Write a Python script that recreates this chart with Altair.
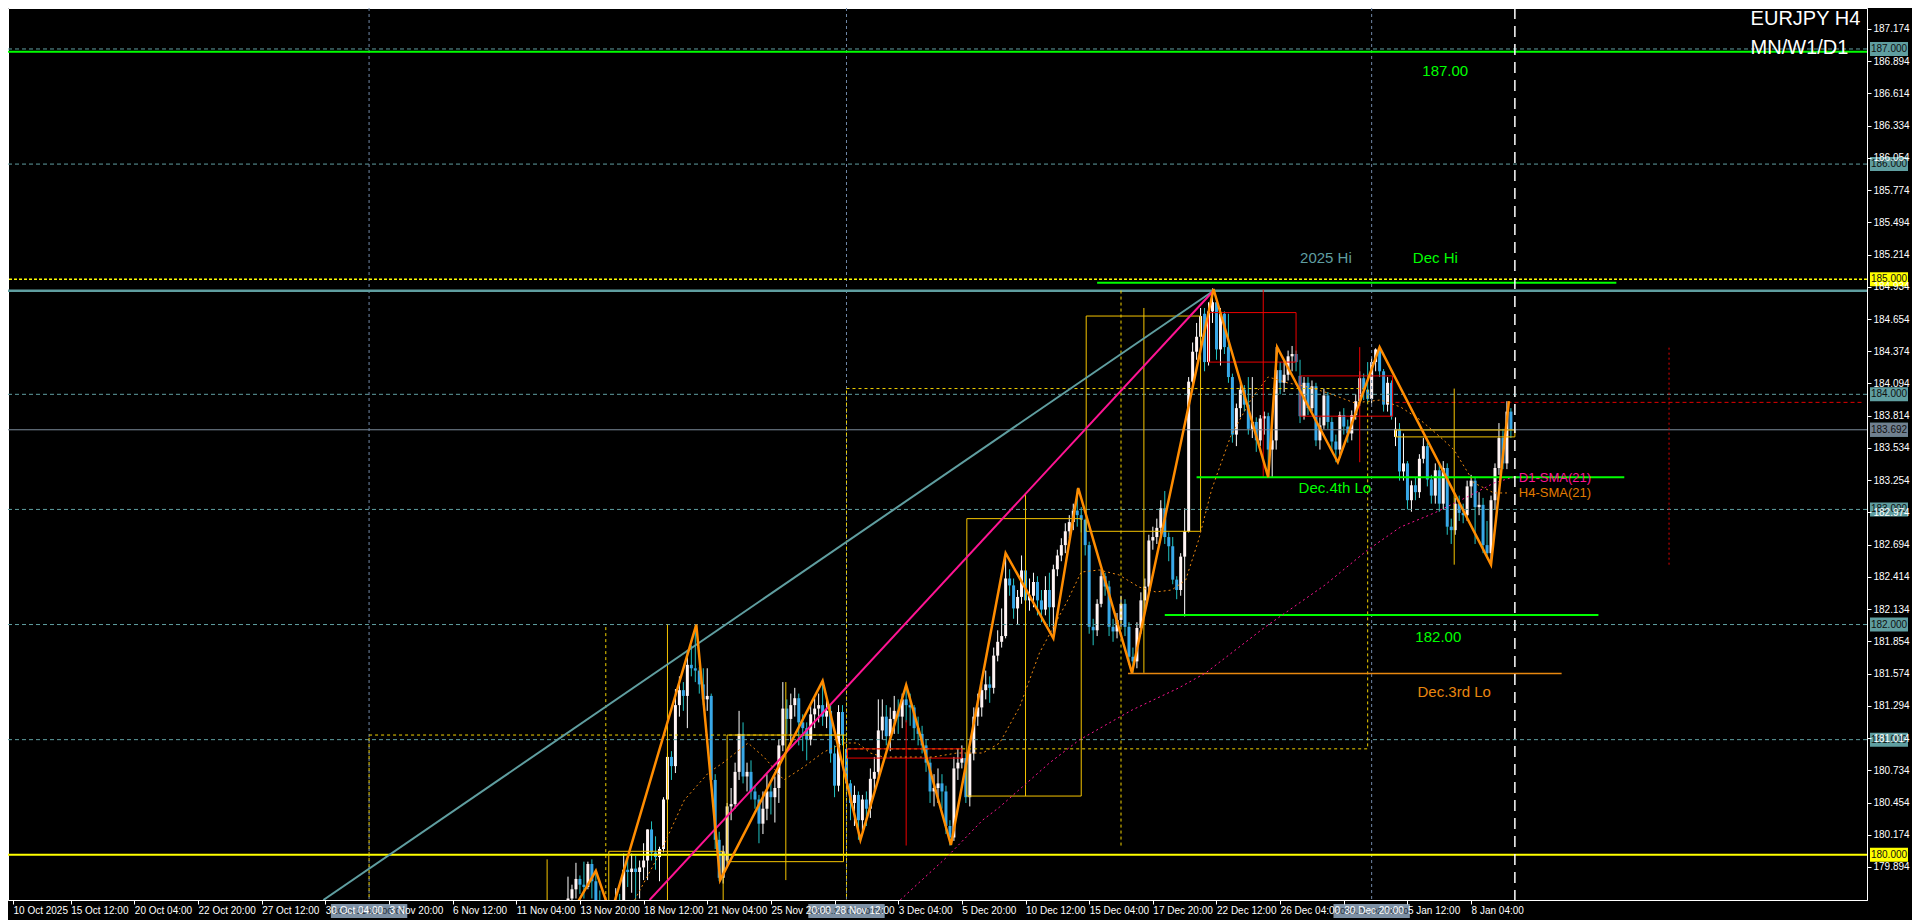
import altair as alt
import pandas as pd

# ---------------- candle data (H4 bars, bar index from 141 to 378) ----------------
START_BAR = 141
OPEN = [
 179.55,179.62,179.70,179.79,179.74,179.72,179.92,179.77,179.60,179.55,
 179.50,179.45,179.50,179.58,179.55,179.87,179.85,179.88,179.85,179.89,
 179.95,180.22,180.02,179.98,180.05,180.48,180.85,180.77,181.30,181.43,
 181.38,181.65,181.62,181.60,181.48,181.35,181.38,180.65,180.13,179.80,
 179.95,180.42,180.44,180.72,181.05,180.68,180.72,180.55,180.48,180.27,
 180.40,180.55,180.50,180.58,180.95,181.27,181.18,181.30,181.36,181.15,
 181.10,181.00,181.22,181.27,181.30,181.20,181.25,180.88,180.60,181.24,
 180.92,180.62,180.45,180.52,180.30,180.48,180.40,180.66,180.72,181.08,
 181.20,181.03,181.18,181.25,181.20,181.35,181.30,181.28,181.10,181.05,
 180.95,180.80,180.55,180.58,180.62,180.55,180.25,180.15,180.75,180.80,
 180.84,180.50,180.88,181.20,181.28,181.43,181.48,181.45,181.73,181.85,
 181.90,182.40,182.34,182.14,182.24,182.47,182.21,182.25,182.37,182.21,
 182.13,182.30,182.15,182.48,182.60,182.69,182.81,182.89,182.99,182.95,
 182.91,182.69,181.98,181.95,182.18,182.42,182.33,181.98,181.94,182.04,
 182.18,181.98,181.72,181.68,181.97,182.21,182.33,182.73,182.76,182.84,
 183.01,182.76,182.68,182.39,182.30,182.59,182.81,184.11,184.37,184.50,
 184.70,184.28,184.72,184.80,184.39,184.70,184.41,184.15,183.65,183.88,
 184.04,183.91,183.70,183.76,183.60,183.79,183.81,183.52,183.60,184.21,
 184.10,184.17,184.33,184.35,184.16,183.81,184.10,183.88,184.07,183.60,
 183.73,183.99,183.76,183.59,183.52,183.82,183.72,183.66,183.82,183.94,
 184.14,184.04,183.96,184.28,184.39,184.20,183.91,184.10,183.63,183.70,
 183.33,183.40,183.08,183.21,183.15,183.44,183.55,183.26,183.12,183.34,
 183.05,183.36,182.85,182.82,183.05,182.97,182.95,183.20,183.25,183.02,
 183.04,182.69,182.62,183.08,183.36,183.62,183.40,183.85]
HIGH = [
 179.81,179.74,179.93,179.82,179.94,179.94,179.96,179.86,179.69,179.58,
 179.55,179.58,179.71,179.66,180.01,179.97,180.01,179.99,179.95,180.10,
 180.22,180.29,180.16,180.07,180.50,180.88,180.90,181.44,181.55,181.50,
 181.78,181.82,182.00,181.63,181.62,181.62,181.40,180.70,180.20,180.08,
 180.45,180.58,180.80,181.25,181.15,180.80,180.82,180.60,180.52,180.55,
 180.70,180.62,180.68,181.00,181.50,181.35,181.40,181.45,181.40,181.22,
 181.15,181.30,181.36,181.40,181.51,181.35,181.30,180.95,181.30,181.30,
 180.95,180.65,180.60,180.55,180.52,180.55,180.75,180.85,181.35,181.35,
 181.30,181.28,181.38,181.35,181.40,181.47,181.40,181.30,181.20,181.12,
 181.00,180.85,180.70,180.75,180.70,180.60,180.30,180.85,180.92,180.95,
 180.88,180.92,181.28,181.40,181.50,181.60,181.55,181.80,181.95,182.14,
 182.62,182.48,182.40,182.30,182.60,182.52,182.40,182.45,182.42,182.30,
 182.42,182.45,182.52,182.65,182.75,182.88,182.95,183.05,183.18,183.02,
 182.92,182.72,182.05,182.22,182.48,182.45,182.38,182.05,182.10,182.25,
 182.22,182.02,181.80,182.02,182.28,182.40,182.78,182.85,182.92,183.08,
 183.16,182.80,182.76,182.42,182.62,183.01,184.15,184.45,184.62,184.75,
 184.75,184.80,184.92,184.85,184.75,184.72,184.70,184.18,183.92,184.10,
 184.08,184.15,184.15,183.80,183.82,183.85,183.84,183.70,184.41,184.28,
 184.30,184.38,184.42,184.38,184.30,184.15,184.15,184.12,184.10,183.80,
 184.05,184.02,183.80,183.65,183.85,183.88,183.78,183.86,184.00,184.20,
 184.18,184.28,184.32,184.40,184.41,184.22,184.15,184.12,183.80,183.75,
 183.66,183.42,183.25,183.28,183.48,183.62,183.58,183.30,183.40,183.40,
 183.42,183.40,182.92,183.10,183.12,183.05,183.25,183.30,183.28,183.15,
 183.10,182.90,183.12,183.40,183.75,183.70,183.94,183.88]
LOW = [
 179.50,179.55,179.62,179.66,179.62,179.70,179.62,179.50,179.45,179.40,
 179.38,179.40,179.45,179.48,179.52,179.72,179.67,179.61,179.62,179.78,
 179.78,179.95,179.87,179.77,180.02,180.45,180.65,180.71,181.20,181.25,
 181.10,181.55,181.50,181.40,181.30,181.25,180.60,180.05,179.77,179.75,
 179.90,180.30,180.40,180.65,180.62,180.55,180.48,180.40,180.10,180.18,
 180.30,180.35,180.28,180.45,180.90,181.05,180.95,181.20,180.95,180.90,
 180.82,180.95,181.10,181.15,181.12,181.10,180.80,180.50,180.55,180.95,
 180.55,180.30,180.25,180.13,180.20,180.25,180.32,180.55,180.65,181.00,
 180.95,180.90,181.05,181.05,181.10,181.15,181.12,181.00,180.95,180.88,
 180.72,180.45,180.42,180.45,180.40,180.18,180.08,180.12,180.65,180.75,
 180.45,180.42,180.82,181.12,181.20,181.35,181.32,181.40,181.68,181.80,
 181.88,182.25,182.05,182.00,182.18,182.10,182.12,182.15,182.08,182.02,
 182.08,181.98,181.88,182.42,182.55,182.62,182.75,182.82,182.85,182.80,
 182.60,181.92,181.82,181.90,182.15,182.25,181.90,181.85,181.88,181.98,
 181.90,181.65,181.58,181.62,181.92,182.10,182.28,182.65,182.70,182.78,
 182.70,182.55,182.35,182.22,182.25,182.07,182.80,184.05,184.30,184.30,
 184.20,184.25,184.62,184.30,184.25,184.35,184.10,183.58,183.55,183.80,
 183.85,183.65,183.62,183.50,183.55,183.65,183.28,183.28,183.52,184.00,
 184.02,184.12,184.20,184.20,183.75,183.78,183.82,183.85,183.55,183.52,
 183.70,183.70,183.50,183.41,183.45,183.65,183.58,183.60,183.78,183.90,
 183.95,183.92,183.92,184.20,184.15,183.85,183.85,183.78,183.55,183.25,
 183.25,183.00,182.98,183.08,183.10,183.40,183.20,183.05,183.05,182.98,
 183.00,182.78,182.70,182.78,182.90,182.88,182.90,183.10,182.70,182.95,
 182.62,182.58,182.52,183.00,183.30,183.35,183.35,183.62]
CLOSE = [
 179.62,179.70,179.79,179.74,179.72,179.92,179.77,179.60,179.55,179.50,
 179.45,179.50,179.58,179.55,179.87,179.85,179.88,179.85,179.89,179.95,
 180.22,180.02,179.98,180.05,180.48,180.85,180.77,181.30,181.43,181.38,
 181.65,181.62,181.60,181.48,181.35,181.38,180.65,180.13,179.80,180.03,
 180.42,180.44,180.72,181.05,180.68,180.72,180.55,180.48,180.27,180.40,
 180.55,180.50,180.58,180.95,181.27,181.18,181.30,181.36,181.15,181.10,
 181.00,181.22,181.27,181.30,181.20,181.25,180.88,180.60,181.24,181.04,
 180.62,180.45,180.52,180.30,180.48,180.40,180.66,180.72,181.08,181.20,
 181.03,181.18,181.25,181.20,181.35,181.30,181.28,181.10,181.05,180.95,
 180.80,180.55,180.58,180.62,180.55,180.25,180.15,180.75,180.80,180.84,
 180.50,180.88,181.20,181.28,181.43,181.48,181.45,181.73,181.85,181.90,
 182.40,182.34,182.14,182.24,182.47,182.21,182.25,182.37,182.21,182.13,
 182.30,182.15,182.48,182.60,182.69,182.81,182.89,182.99,182.95,182.91,
 182.69,181.98,181.95,182.18,182.42,182.33,181.98,181.94,182.04,182.18,
 181.98,181.72,181.68,181.97,182.21,182.33,182.73,182.76,182.84,183.01,
 182.76,182.68,182.39,182.30,182.59,182.81,184.11,184.37,184.50,184.68,
 184.28,184.72,184.80,184.39,184.70,184.41,184.15,183.65,183.88,184.04,
 183.91,183.70,183.76,183.60,183.79,183.81,183.52,183.60,184.21,184.10,
 184.17,184.33,184.35,184.28,183.81,184.10,183.88,184.07,183.60,183.73,
 183.99,183.76,183.59,183.52,183.82,183.72,183.66,183.82,183.94,184.14,
 184.04,183.96,184.28,184.39,184.20,183.91,184.10,183.81,183.70,183.33,
 183.40,183.08,183.21,183.15,183.44,183.55,183.26,183.12,183.34,183.05,
 183.36,182.85,182.82,183.05,182.97,182.95,183.20,183.25,183.02,183.04,
 182.69,182.62,183.08,183.36,183.62,183.40,183.85,183.69]

# ---------------- axes ----------------
X_LABELS = ["10 Oct 2025", "15 Oct 12:00", "20 Oct 04:00", "22 Oct 20:00", "27 Oct 12:00",
            "30 Oct 04:00", "3 Nov 20:00", "6 Nov 12:00", "11 Nov 04:00", "13 Nov 20:00",
            "18 Nov 12:00", "21 Nov 04:00", "25 Nov 20:00", "28 Nov 12:00", "3 Dec 04:00",
            "5 Dec 20:00", "10 Dec 12:00", "15 Dec 04:00", "17 Dec 20:00", "22 Dec 12:00",
            "26 Dec 04:00", "30 Dec 20:00", "5 Jan 12:00", "8 Jan 04:00"]
X_TICK_BARS = [1.5, 16, 32, 48, 64, 80, 96, 112, 128, 144, 160, 176, 192, 208, 224, 240,
               256, 272, 288, 304, 320, 336, 352, 368]
Y_TICKS = [179.894, 180.174, 180.454, 180.734, 181.014, 181.294, 181.574, 181.854, 182.134,
           182.414, 182.694, 182.974, 183.254, 183.534, 183.814, 184.094, 184.374, 184.654,
           184.934, 185.214, 185.494, 185.774, 186.054, 186.334, 186.614, 186.894, 187.174]
X_DOMAIN = [1.5, 466.25]
Y_DOMAIN = [179.607, 187.356]

# ---------------- higher timeframe candles ----------------
W_X0 = [121.25, 151.25, 181, 211.25, 241.25, 271.25, 302, 325, 349]
W_X1 = [150, 180, 210.25, 240, 270, 300, 324, 348.25, 379]
W_OPEN = [179.20, 179.40, 179.94, 180.92, 180.51, 182.81, 184.71, 184.16, 183.63]
W_CLOSE = [179.35, 180.03, 181.04, 180.84, 182.92, 184.68, 184.28, 183.81, 183.69]
W_WICK = [135.75, 166, 195.75, 226, 256, 285.75, 315.75, 340, 363.75]
W_HIGH = [179.96, 182.00, 181.50, 181.17, 183.14, 184.75, 184.91, 184.41, 184.05]
W_LOW = [179.00, 179.30, 179.78, 180.08, 180.51, 181.58, 183.28, 183.41, 182.52]

M_X0 = [91, 211]
M_X1 = [211, 342]
M_OPEN = [177.50, 180.92]
M_CLOSE = [181.04, 184.05]
M_WICK = [150.5, 280]
M_HIGH = [182.00, 184.91]
M_LOW = [177.00, 180.08]
JAN_WICK = 417.75
JAN_HIGH, JAN_LOW, JAN_OPEN = 184.41, 182.52, 183.93

# ---------------- drawn objects ----------------
ZZ_BAR = [143, 148, 151.75, 173.25, 179.25, 205, 214.5, 226, 237.25, 251, 263, 269.25, 282.75,
          303.25, 317, 319.25, 334.5, 345, 373, 377.5]
ZZ_PRICE = [179.56, 179.86, 179.48, 182.00, 179.78, 181.51, 180.13, 181.475, 180.085, 182.62,
            181.88, 183.186, 181.58, 184.915, 183.28, 184.41, 183.41, 184.41, 182.52, 183.94]

H4_BAR = [157.75, 164.5, 170.25, 176.25, 180.25, 186.25, 190.25, 195.25, 200.25, 205.25, 210.25,
          213.75, 217, 220.25, 225.25, 232.75, 238.75, 245.25, 249.5, 254.5, 259.5, 266.25,
          270, 274.5, 279.5, 284.5, 288.75, 292.75, 296.25, 299.5, 302.75, 307.5, 312.75,
          317, 322, 327, 332, 338.75, 345.25, 350.25, 355.25, 360.25, 363.75, 368.75,
          373.75, 377]
H4_SMA = [179.607, 180.041, 180.476, 180.710, 180.806, 180.971, 180.849, 180.650, 180.762, 180.892,
          180.971, 180.971, 180.884, 180.849, 180.849, 180.849, 180.884, 180.884, 180.971, 181.283,
          181.753, 182.187, 182.456, 182.474, 182.431, 182.326, 182.283, 182.300, 182.387, 182.734,
          183.169, 183.630, 183.960, 184.151, 184.098, 184.064, 184.012, 183.925, 183.951,
          183.890, 183.777, 183.629, 183.516, 183.230, 183.143, 183.143]

D1_BAR = [224.5, 236.25, 245.25, 249.5, 262, 269.5, 282.75, 294.5, 301.25, 316.25, 331.25, 342,
          350.25, 358.75, 367, 373.75, 378.75]
D1_SMA = [179.607, 179.981, 180.302, 180.415, 180.797, 180.997, 181.257, 181.449, 181.579,
          181.979, 182.343, 182.648, 182.847, 182.969, 183.108, 183.230, 183.282]

TREND_BLUE = [(79.5, 179.607), (303.25, 184.90)]
TREND_PINK = [(161.5, 179.607), (303.25, 184.90)]

GRAY_LEVELS = [187.0, 186.0, 184.0, 183.0, 182.0, 181.0]
CURRENT_PRICE = 183.692
HI_2025 = 184.90
GREEN_187 = 186.975
VLINE_BARS = [91, 211, 343]
VLINE_LABELS = ["2025.11.03 00:00", "2025.12.01 00:00", "2026.01.02 00:00"]
NOW_BAR = 379

SEG_NAMES = ["Dec Hi", "Dec.4th Lo", "182.00", "Dec.3rd Lo"]
SEG_X0 = [274, 299, 291, 281.75]
SEG_X1 = [404.5, 406.5, 400, 390.75]
SEG_PRICE = [184.97, 183.28, 182.083, 181.575]

BOX_LEVELS = [187.0, 186.0, 185.0, 184.0, 183.692, 183.0, 182.0, 181.0, 180.0]
BOX_KIND = ["obj", "obj", "yel", "obj", "cur", "obj", "obj", "obj", "yel"]

# ---------------- build tables ----------------
n = len(CLOSE)
assert len(OPEN) == n and len(HIGH) == n and len(LOW) == n
cdf = pd.DataFrame({"bar": [START_BAR + i for i in range(n)], "o": OPEN, "h": HIGH,
                    "l": LOW, "c": CLOSE})

xs = alt.Scale(domain=X_DOMAIN, nice=False, zero=False)
ys = alt.Scale(domain=Y_DOMAIN, nice=False, zero=False)
FONT = "Liberation Sans"

label_expr = "[" + ",".join("'%s'" % s for s in X_LABELS) + "][round(datum.value/16)]"
x_axis = alt.Axis(values=X_TICK_BARS, labelExpr=label_expr, labelAlign="left", labelBaseline="top",
                  labelColor="#ffffff", labelFont=FONT, labelFontSize=10, tickColor="#ffffff",
                  tickSize=4, domainColor="#ffffff", labelPadding=1, grid=False, title=None,
                  labelFlush=False, labelOverlap=False, zindex=1)
y_axis = alt.Axis(orient="right", values=Y_TICKS, format=".3f", labelColor="#ffffff",
                  labelFont=FONT, labelFontSize=10, tickColor="#ffffff", tickSize=4,
                  domainColor="#ffffff", labelPadding=2, grid=False, title=None,
                  labelOverlap=False, labelFlush=False, zindex=1)


def X(f):
    return alt.X(f, type="quantitative", scale=xs, axis=x_axis)


def Y(f):
    return alt.Y(f, type="quantitative", scale=ys, axis=y_axis)


up = "datum.c >= datum.o"
wicks = alt.Chart(cdf).mark_rule(strokeWidth=1, clip=True).encode(
    x=X("bar"), y=Y("l"), y2="h",
    color=alt.condition(up, alt.value("#ffffff"), alt.value("#22c4c4")))
bodies = alt.Chart(cdf).mark_bar(size=3, clip=True).encode(
    x=X("bar"), y=Y("o"), y2="c",
    color=alt.condition(up, alt.value("#fff4f4"), alt.value("#38a8e8")))

# monthly
mdf = pd.DataFrame({"x0": M_X0, "x1": M_X1, "o": M_OPEN, "c": M_CLOSE, "w": M_WICK,
                    "h": M_HIGH, "l": M_LOW})
m_box = alt.Chart(mdf).mark_rect(fillOpacity=0, stroke="#f2d200", strokeWidth=1,
                                 strokeDash=[3, 3], clip=True).encode(
    x=X("x0"), x2="x1", y=Y("o"), y2="c")
m_wick = alt.Chart(mdf).mark_rule(color="#f2d200", strokeWidth=1, strokeDash=[3, 3],
                                  clip=True).encode(x=X("w"), y=Y("l"), y2="h")
jdf = pd.DataFrame({"w": [JAN_WICK], "h": [JAN_HIGH], "l": [JAN_LOW], "o": [JAN_OPEN],
                    "x0": [349], "x1": [X_DOMAIN[1]]})
j_wick = alt.Chart(jdf).mark_rule(color="#e00000", strokeWidth=1, strokeDash=[2, 3],
                                  clip=True).encode(x=X("w"), y=Y("l"), y2="h")
j_open = alt.Chart(jdf).mark_rule(color="#e00000", strokeWidth=1, strokeDash=[4, 3],
                                  clip=True).encode(x=X("x0"), x2="x1", y=Y("o"))

# weekly
wdf = pd.DataFrame({"x0": W_X0, "x1": W_X1, "o": W_OPEN, "c": W_CLOSE, "w": W_WICK,
                    "h": W_HIGH, "l": W_LOW})
w_box = alt.Chart(wdf).mark_rect(fillOpacity=0, strokeWidth=1, clip=True).encode(
    x=X("x0"), x2="x1", y=Y("o"), y2="c",
    stroke=alt.condition(up, alt.value("#f5c400"), alt.value("#ee0000")))
w_wick = alt.Chart(wdf).mark_rule(strokeWidth=1, clip=True).encode(
    x=X("w"), y=Y("l"), y2="h",
    color=alt.condition(up, alt.value("#f5c400"), alt.value("#ee0000")))

# horizontal lines
gdf = pd.DataFrame({"p": GRAY_LEVELS})
gray_h = alt.Chart(gdf).mark_rule(color="#5f9ea0", strokeWidth=1, strokeDash=[4, 3]).encode(y=Y("p"))
cur_h = alt.Chart(pd.DataFrame({"p": [CURRENT_PRICE]})).mark_rule(
    color="#7b8b9b", strokeWidth=1).encode(y=Y("p"))
y185 = alt.Chart(pd.DataFrame({"p": [185.0]})).mark_rule(
    color="#ffff00", strokeWidth=1.5, strokeDash=[3, 2]).encode(y=Y("p"))
y180 = alt.Chart(pd.DataFrame({"p": [180.0]})).mark_rule(
    color="#ffff00", strokeWidth=2).encode(y=Y("p"))
hi25 = alt.Chart(pd.DataFrame({"p": [HI_2025]})).mark_rule(
    color="#5f9ea0", strokeWidth=2.5).encode(y=Y("p"))
g187 = alt.Chart(pd.DataFrame({"p": [GREEN_187]})).mark_rule(
    color="#00ff00", strokeWidth=2).encode(y=Y("p"))

sdf = pd.DataFrame({"name": SEG_NAMES, "x0": SEG_X0, "x1": SEG_X1, "p": SEG_PRICE})
green_seg = alt.Chart(sdf).transform_filter("datum.name != 'Dec.3rd Lo'").mark_rule(
    color="#00ff00", strokeWidth=2).encode(x=X("x0"), x2="x1", y=Y("p"))
orange_seg = alt.Chart(sdf).transform_filter("datum.name == 'Dec.3rd Lo'").mark_rule(
    color="#e8870f", strokeWidth=1.5).encode(x=X("x0"), x2="x1", y=Y("p"))

# vertical lines
vdf = pd.DataFrame({"b": VLINE_BARS, "t": VLINE_LABELS})
vlines = alt.Chart(vdf).mark_rule(color="#7088a8", strokeWidth=1, strokeDash=[3, 3]).encode(x=X("b"))
now_line = alt.Chart(pd.DataFrame({"b": [NOW_BAR]})).mark_rule(
    color="#ffffff", strokeWidth=1.5, strokeDash=[11, 7]).encode(x=X("b"))

# trendlines
tb = pd.DataFrame({"b": [p[0] for p in TREND_BLUE], "p": [p[1] for p in TREND_BLUE]})
tp = pd.DataFrame({"b": [p[0] for p in TREND_PINK], "p": [p[1] for p in TREND_PINK]})
t_blue = alt.Chart(tb).mark_line(color="#5f9ea0", strokeWidth=2, clip=True).encode(x=X("b"), y=Y("p"))
t_pink = alt.Chart(tp).mark_line(color="#ff1493", strokeWidth=2, clip=True).encode(x=X("b"), y=Y("p"))

# SMAs
h4 = alt.Chart(pd.DataFrame({"b": H4_BAR, "p": H4_SMA})).mark_line(
    color="#f08a10", strokeWidth=1, strokeDash=[2, 3], clip=True).encode(x=X("b"), y=Y("p"))
d1 = alt.Chart(pd.DataFrame({"b": D1_BAR, "p": D1_SMA})).mark_line(
    color="#ff1493", strokeWidth=1, strokeDash=[2, 3], clip=True).encode(x=X("b"), y=Y("p"))

# zigzag
zz = alt.Chart(pd.DataFrame({"b": ZZ_BAR, "p": ZZ_PRICE})).mark_line(
    color="#ff8c00", strokeWidth=2.5, clip=True).encode(x=X("b"), y=Y("p"))


# labels
def label(txt, b, p, color, size, align="center"):
    return alt.Chart(pd.DataFrame({"b": [b], "p": [p], "t": [txt]})).mark_text(
        color=color, fontSize=size, font=FONT, align=align, baseline="middle").encode(
        x=X("b"), y=Y("p"), text="t:N")


labels = [
    label("187.00", 361.5, 186.81, "#00ff00", 15),
    label("2025 Hi", 331.5, 185.18, "#5f9ea0", 15),
    label("Dec Hi", 359, 185.18, "#00ff00", 15),
    label("Dec.4th Lo", 333.75, 183.19, "#00ff00", 15),
    label("182.00", 359.75, 181.89, "#00ff00", 15),
    label("Dec.3rd Lo", 363.75, 181.41, "#e8870f", 15),
    label("D1-SMA(21)", 380, 183.27, "#ff1493", 13, "left"),
    label("H4-SMA(21)", 380, 183.14, "#e07b00", 13, "left"),
]
title_df = pd.DataFrame({"b": [438.25, 438.25], "p": [187.209, 186.957],
                         "t": ["EURJPY H4", "MN/W1/D1"]})
titles = alt.Chart(title_df).mark_text(color="#ffffff", fontSize=20, font=FONT, align="left",
                                       baseline="alphabetic").encode(x=X("b"), y=Y("p"), text="t:N")

# right axis price boxes
bdf = pd.DataFrame({"p": BOX_LEVELS, "k": BOX_KIND})
bdf["top"] = bdf["p"] + 0.061
bdf["bot"] = bdf["p"] - 0.061
bdf["txt"] = bdf["p"].map(lambda v: "%.3f" % v)
boxes = alt.Chart(bdf).mark_rect().encode(
    x=alt.value(1862), x2=alt.value(1900), y=Y("top"), y2="bot",
    color=alt.condition("datum.k == 'yel'", alt.value("#ffff00"), alt.value("#5f9ea0")))
boxes_cur = alt.Chart(bdf).transform_filter("datum.k == 'cur'").mark_rect(color="#708090").encode(
    x=alt.value(1862), x2=alt.value(1900), y=Y("top"), y2="bot")
box_txt = alt.Chart(bdf).mark_text(color="#101010", fontSize=10, font=FONT, align="center",
                                   baseline="middle").encode(
    x=alt.value(1881), y=Y("p"), text="txt:N")

# bottom gray time boxes
vdf["x0"] = vdf["b"] - 9.6
vdf["x1"] = vdf["b"] + 9.6
tboxes = alt.Chart(vdf).mark_rect(color="#7d90a4").encode(
    x=X("x0"), x2="x1", y=alt.value(896), y2=alt.value(910))
tbox_txt = alt.Chart(vdf).mark_text(color="#28323c", fontSize=9.5, font=FONT, align="center",
                                    baseline="middle").encode(x=X("b"), y=alt.value(903), text="t:N")

chart = alt.layer(
    wicks, bodies,
    gray_h, cur_h, vlines, y185, y180, hi25, g187,
    m_box, m_wick, j_wick, j_open, w_box, w_wick,
    green_seg, orange_seg, t_blue, t_pink, h4, d1, zz, now_line,
    *labels, titles,
    boxes, boxes_cur, box_txt, tboxes, tbox_txt,
).properties(
    width=1859, height=892,
    padding={"left": 0, "top": 0, "right": 45, "bottom": 20},
    autosize=alt.AutoSizeParams(type="none"),
    background="#000000",
).configure_view(stroke="#ffffff", strokeWidth=1)

chart.save("out.html", embed_options={"renderer": "svg", "actions": False})
